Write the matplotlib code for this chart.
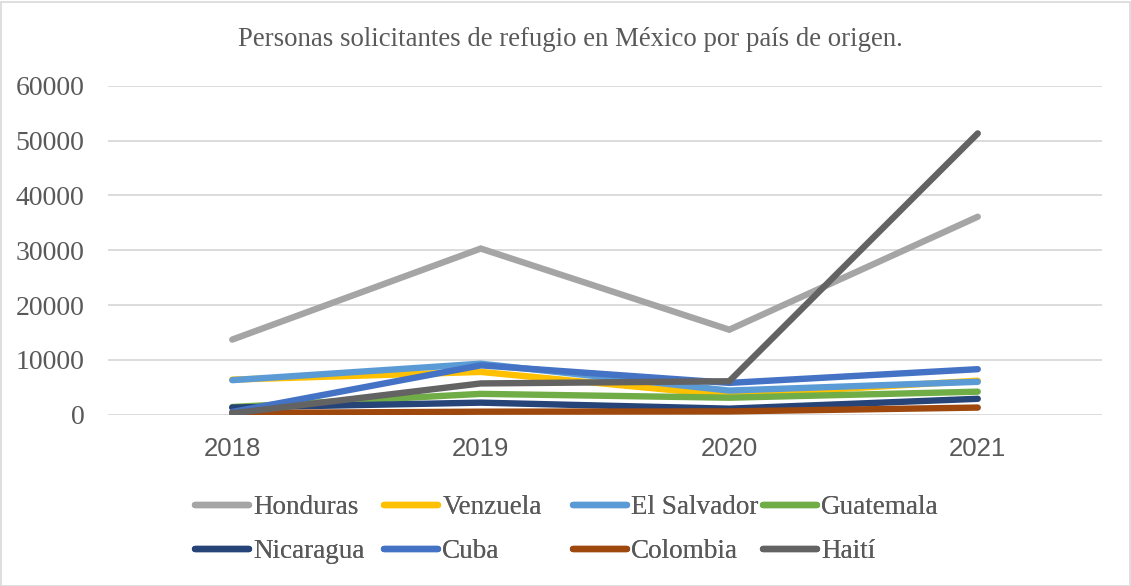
import matplotlib.pyplot as plt
from matplotlib.patches import Rectangle

years = ["2018", "2019", "2020", "2021"]
countries = ["Honduras", "Venzuela", "El Salvador", "Guatemala",
             "Nicaragua", "Cuba", "Colombia", "Haití"]

honduras = [13700, 30300, 15500, 36100]
venezuela = [6400, 7800, 3500, 6200]
el_salvador = [6300, 9300, 4400, 6000]
guatemala = [1400, 3800, 3100, 4200]
nicaragua = [1300, 2200, 1100, 2900]
cuba = [500, 9000, 5800, 8300]
colombia = [300, 550, 600, 1300]
haiti = [250, 5700, 6100, 51300]

series = [honduras, venezuela, el_salvador, guatemala,
          nicaragua, cuba, colombia, haiti]
colors = ["#A5A5A5", "#FFC000", "#5B9BD5", "#70AD47",
          "#264478", "#4472C4", "#9E480E", "#636363"]

W, H = 1131, 586
fig = plt.figure(figsize=(W / 100, H / 100), dpi=100)
ax = fig.add_axes([108 / W, 1 - 414.7 / H, (1102 - 108) / W, (414.7 - 85.7) / H])

handles = []
for vals, name, col in zip(series, countries, colors):
    ln, = ax.plot(range(len(years)), vals, color=col, lw=4.6,
                  solid_capstyle="round", solid_joinstyle="miter", label=name)
    handles.append(ln)

ax.set_xlim(-0.5, len(years) - 0.5)
ax.set_ylim(0, 60000)
ax.set_yticks(range(0, 60001, 10000))
ax.set_xticks(range(len(years)))
ax.set_xticklabels(years, family="Liberation Sans", fontsize=18.5, color="#595959")
for lab in ax.get_yticklabels():
    lab.set_family("Liberation Serif")
    lab.set_fontsize(20)
    lab.set_color("#595959")
ax.tick_params(axis="y", length=0, pad=17)
ax.tick_params(axis="x", length=0, pad=16)
ax.grid(axis="y", color="#D9D9D9", lw=1.3)
ax.set_axisbelow(True)
for s in ax.spines.values():
    s.set_visible(False)

fig.text(570 / W, 1 - 40 / H, "Personas solicitantes de refugio en México por país de origen.",
         ha="center", va="center", family="Liberation Serif", fontsize=19.3, color="#595959")

# legend: four columns of two entries, placed like the Excel layout
col_x = [195, 384, 573, 763]
for i, x in enumerate(col_x):
    leg = fig.legend(handles=[handles[i], handles[i + 4]], loc="upper left",
                     bbox_to_anchor=(x / W, 1 - 495 / H), frameon=False,
                     borderpad=0, borderaxespad=0, handlelength=2.0,
                     handletextpad=0.15, labelspacing=0.72,
                     prop={"family": "Liberation Serif", "size": 19.5})
    for t in leg.get_texts():
        t.set_color("#595959")
    fig.add_artist(leg)

fig.patches.append(Rectangle((0.5 / W, 0.5 / H), (W - 2) / W, (H - 2) / H,
                             transform=fig.transFigure, fill=False,
                             edgecolor="#D9D9D9", lw=1.2))

fig.savefig("out.png", dpi=100)
